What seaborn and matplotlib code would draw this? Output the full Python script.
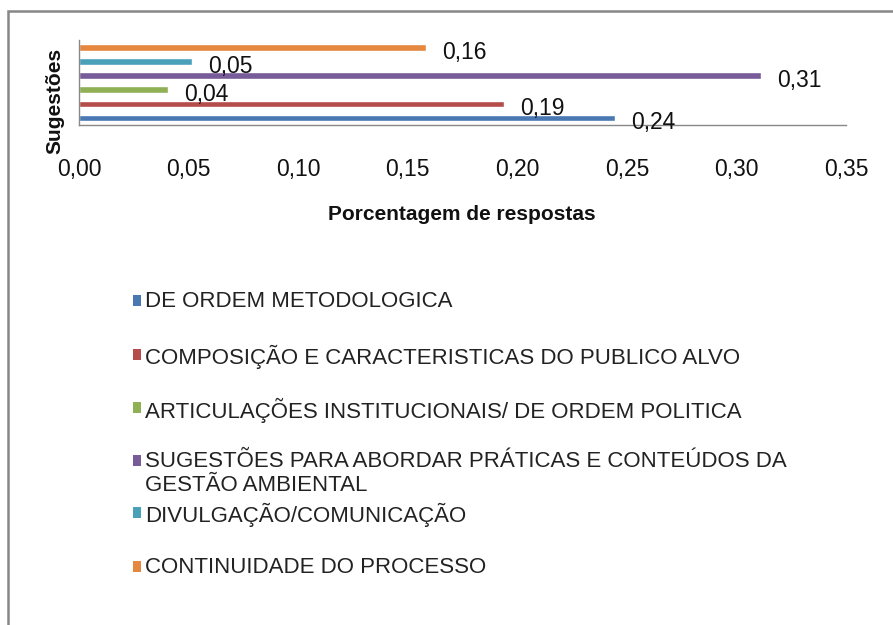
import matplotlib
matplotlib.use("Agg")
import matplotlib.pyplot as plt
import matplotlib.patches as mpatches
import seaborn as sns
import pandas as pd

# ---- data ----
categoria = "Sugestões"
series = [
    "DE ORDEM METODOLOGICA",
    "COMPOSIÇÃO E CARACTERISTICAS DO PUBLICO ALVO",
    "ARTICULAÇÕES INSTITUCIONAIS/ DE ORDEM POLITICA",
    "SUGESTÕES PARA ABORDAR PRÁTICAS E CONTEÚDOS DA\nGESTÃO AMBIENTAL",
    "DIVULGAÇÃO/COMUNICAÇÃO",
    "CONTINUIDADE DO PROCESSO",
]
valores = [0.2445, 0.194, 0.0407, 0.311, 0.0514, 0.1583]
rotulos = ["0,24", "0,19", "0,04", "0,31", "0,05", "0,16"]
cores = ["#4A78B2", "#B44C4A", "#90B056", "#785C99", "#4AA0B9", "#E5873F"]
xticks = [0.00, 0.05, 0.10, 0.15, 0.20, 0.25, 0.30, 0.35]
xticklabels = ["0,00", "0,05", "0,10", "0,15", "0,20", "0,25", "0,30", "0,35"]
xlabel = "Porcentagem de respostas"

W, H = 893, 625
DPI = 100

sns.set_style("white")
plt.rcParams["font.family"] = ["Liberation Sans", "DejaVu Sans"]

fig = plt.figure(figsize=(W / DPI, H / DPI), dpi=DPI)

def fx(px):
    return px / W

def fy(py):
    return 1 - py / H

ax_left, ax_right, ax_top, ax_bottom = 79, 846.3, 40, 125
ax = fig.add_axes([fx(ax_left), fy(ax_bottom), fx(ax_right - ax_left), (ax_bottom - ax_top) / H])

df = pd.DataFrame({"cat": [categoria] * len(series), "serie": series, "valor": valores})
sns.barplot(data=df, x="valor", y="cat", hue="serie", hue_order=series,
            palette=cores, orient="h", gap=0.52, width=0.8, legend=False,
            ax=ax, saturation=1)

ax.set_xlim(0, 0.35)
ax.set_ylim(-0.4, 0.405)
ax.set_xticks(xticks)
ax.set_xticklabels(xticklabels, fontsize=16.5, color="#111")
ax.set_yticks([])
ax.set_ylabel("")
ax.set_xlabel("")
ax.tick_params(axis="x", direction="out", length=6, width=1, color="#888888", pad=18)
for s in ["top", "right"]:
    ax.spines[s].set_visible(False)
for s in ["left", "bottom"]:
    ax.spines[s].set_color("#888888")
    ax.spines[s].set_linewidth(1)

# value labels
for bar, lab in zip(ax.patches, rotulos):
    x_end = bar.get_x() + bar.get_width()
    yc = bar.get_y() + bar.get_height() / 2
    ax.annotate(lab, (x_end, yc), xytext=(11.5, -1.5), textcoords="offset points",
                ha="left", va="center_baseline", fontsize=16.5, color="#111",
                annotation_clip=False)

# axis titles
fig.text(fx(462), fy(215), xlabel, ha="center", va="center",
         fontsize=15, fontweight="bold", color="#111")
fig.text(fx(55), fy(101), categoria, ha="center", va="center", rotation=90,
         fontsize=15, fontweight="bold", color="#111")

# legend
leg_y = [300, 354, 407, 460, 512, 566]
for nome, cor, y in zip(series, cores, leg_y):
    fig.patches.append(mpatches.Rectangle((fx(133), fy(y + 5.5)), fx(7.5), 11 / H,
                                          transform=fig.transFigure, facecolor=cor,
                                          edgecolor="none"))
    fig.text(fx(145), fy(y - 9), nome, ha="left", va="top", fontsize=16,
             color="#222", linespacing=1.18)

# outer frame
fig.patches.append(mpatches.Rectangle((fx(8), -0.1), 1.2, fy(11) + 0.1,
                                      transform=fig.transFigure, facecolor="none",
                                      edgecolor="#878787", linewidth=1.8))

fig.savefig("out.png", dpi=DPI)
